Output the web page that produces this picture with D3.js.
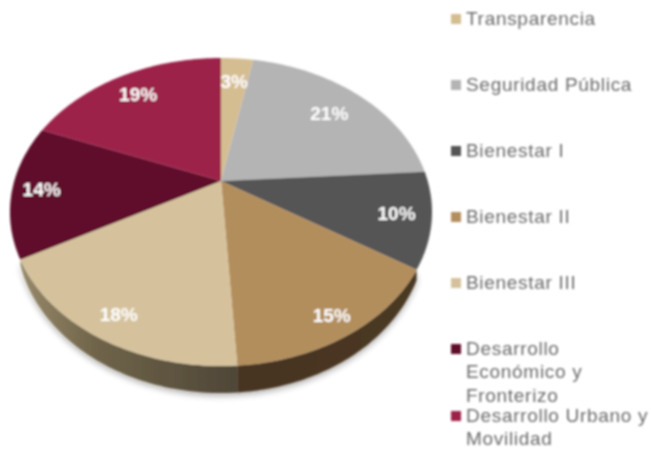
<!DOCTYPE html>
<html><head><meta charset="utf-8">
<script src="https://cdn.jsdelivr.net/npm/d3@7/dist/d3.min.js"></script>
<style>html,body{margin:0;padding:0;background:#fff}svg{display:block}</style></head>
<body><svg id="c" width="651" height="451"></svg>
<script>
const categories = ["Transparencia","Seguridad Pública","Bienestar I","Bienestar II","Bienestar III","Desarrollo Económico y Fronterizo","Desarrollo Urbano y Movilidad"];
const values = [3,21,10,15,18,14,19];
const colors = ["#d5bd92","#b4b4b4","#555555","#b38e5d","#d5c29c","#5e0d2c","#9c2348"];
const legendLines = [["Transparencia"],["Seguridad Pública"],["Bienestar I"],["Bienestar II"],["Bienestar III"],["Desarrollo","Económico y","Fronterizo"],["Desarrollo Urbano y","Movilidad"]];

const cx=221, cy=181, k=-0.2013, a=147.76, c=206.7, depthMax=27;
const labelR=[.79,.77,.84,.89,.87,.86,.81];
const legendY=[19,85,151,217,283,349,416];
const lineH=23.5;

const svg=d3.select("#c");
const defs=svg.append("defs");
const soft=defs.append("filter").attr("id","soft").attr("filterUnits","userSpaceOnUse").attr("x",0).attr("y",0).attr("width",651).attr("height",451);
soft.append("feGaussianBlur").attr("stdDeviation",0.8);
const sh=defs.append("filter").attr("id","sh").attr("x","-10%").attr("y","-20%").attr("width","120%").attr("height","140%");
sh.append("feGaussianBlur").attr("stdDeviation",3);
const g1=defs.append("linearGradient").attr("id","w1");
g1.append("stop").attr("offset",0).attr("stop-color","#97886a");
g1.append("stop").attr("offset",.35).attr("stop-color","#6f6449");
g1.append("stop").attr("offset",1).attr("stop-color","#4f4638");
const g2=defs.append("linearGradient").attr("id","w2");
g2.append("stop").attr("offset",0).attr("stop-color","#463420");
g2.append("stop").attr("offset",1).attr("stop-color","#4a3822");

// disc-to-perspective projection
function proj(ang,r){const u=r*Math.sin(ang),v=-r*Math.cos(ang),d=1+k*v;return [cx+c*u/d,cy+a*v/d];}
const line=d3.line().curve(d3.curveLinear);
const arcs=d3.pie().sort(null)(values);
function samples(s,e){return d3.range(0,61).map(i=>s+(e-s)*i/60);}
function depth(ang){const v=-Math.cos(ang),t=Math.max(0,(v-0.47)/0.53);return depthMax*Math.pow(t,0.45);}

const root=svg.append("g").attr("filter","url(#soft)");
const all=samples(arcs[3].startAngle,arcs[4].endAngle);
const wallPts=(s,e)=>{const A=samples(s,e);return A.map(t=>proj(t,1)).concat(A.slice().reverse().map(t=>{const p=proj(t,1);return [p[0],p[1]+depth(t)];}));};
root.append("path").attr("d",line(wallPts(all[0],all[60]))+"Z").attr("fill","#000").attr("opacity",.3).attr("filter","url(#sh)").attr("transform","translate(0,3)");
root.append("path").attr("d",line(wallPts(arcs[3].startAngle,arcs[3].endAngle))+"Z").attr("fill","url(#w2)");
root.append("path").attr("d",line(wallPts(arcs[4].startAngle,arcs[4].endAngle))+"Z").attr("fill","url(#w1)");

root.selectAll("path.s").data(arcs).join("path").attr("class","s")
 .attr("d",d=>line([[cx,cy]].concat(samples(d.startAngle,d.endAngle).map(t=>proj(t,1))))+"Z")
 .attr("fill",(d,i)=>colors[i]);

root.selectAll("text.v").data(arcs).join("text").attr("class","v")
 .attr("transform",(d,i)=>{const p=proj((d.startAngle+d.endAngle)/2,labelR[i]);return `translate(${p[0]},${p[1]})`;})
 .attr("text-anchor","middle").attr("dy","0.36em")
 .attr("font-family","Liberation Sans").attr("font-weight","bold").attr("font-size",19)
 .attr("fill","#fff").text(d=>d.value+"%");

const lg=root.selectAll("g.l").data(categories).join("g").attr("class","l");
lg.append("rect").attr("x",451).attr("y",(d,i)=>legendY[i]-5).attr("width",10).attr("height",10).attr("fill",(d,i)=>colors[i]);
lg.each(function(d,i){
  d3.select(this).selectAll("text").data(legendLines[i]).join("text")
   .attr("x",466).attr("y",(t,j)=>legendY[i]+j*lineH).attr("dy","0.3em")
   .attr("font-family","Liberation Sans").attr("font-size",19).attr("letter-spacing",0.7)
   .attr("fill","#6a6a6a").text(t=>t);
});
</script></body></html>
